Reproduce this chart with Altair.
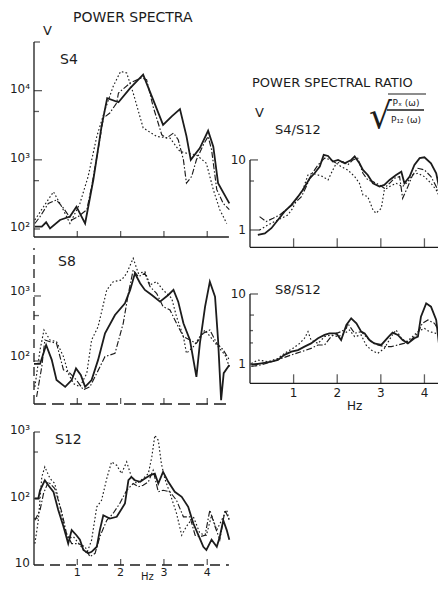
import altair as alt
import pandas as pd

INK = "#1c1c1c"
FONT = "DejaVu Sans"

# ---------------- data: frequency (Hz) and spectral amplitude ----------------
# Power spectrum, station S4
s4_solid_f = [0.02,0.18,0.28,0.37,0.6,0.83,0.98,1.18,1.37,1.56,1.69,1.95,2.22,2.52,2.75,2.98,3.18,3.37,3.52,3.62,3.83,4.02,4.14,4.25,4.51]
s4_solid_v = [108,108,125,102,135,151,210,120,515,3050,7800,6800,10900,17000,7400,3200,4250,5400,2200,1000,1480,2630,1550,460,235]
s4_dash_f = [0.02,0.14,0.33,0.52,0.68,0.87,1.02,1.22,1.33,1.48,1.6,1.75,1.91,1.95,2.22,2.48,2.6,2.75,2.95,3.06,3.22,3.33,3.45,3.52,3.64,3.75,3.91,4.02,4.1,4.22,4.37,4.51]
s4_dash_v = [120,151,234,263,200,135,151,190,410,1400,4000,4750,6650,9250,12900,15300,14400,5900,2300,2060,2440,1950,1000,460,575,1000,1650,2180,1400,370,234,190]
s4_dot_f = [0.02,0.22,0.45,0.64,0.83,1.06,1.25,1.45,1.64,1.83,2.0,2.14,2.29,2.52,2.83,3.14,3.37,3.52,3.75,3.98,4.14,4.29,4.45]
s4_dot_v = [135,210,345,210,120,234,575,2180,5300,11600,19000,18000,9250,2900,2180,2060,1320,1250,1180,890,370,190,120]

# Power spectrum, station S8
s8_solid_f = [0,0.14,0.28,0.41,0.52,0.72,0.87,0.97,1.08,1.18,1.33,1.48,1.64,1.87,2.1,2.22,2.33,2.45,2.56,2.72,2.91,3.1,3.22,3.33,3.45,3.6,3.75,3.83,3.95,4.06,4.18,4.25,4.32,4.38,4.51]
s8_solid_v = [90,90,176,104,51,40,51,77,61,40,51,104,267,510,771,1240,2230,1570,1240,1035,818,1035,1240,818,380,210,57,187,686,1660,977,210,25,65,87]
s8_dash_f = [0.06,0.18,0.25,0.37,0.52,0.68,0.83,0.98,1.14,1.29,1.45,1.64,1.87,2.06,2.18,2.29,2.41,2.56,2.68,2.83,2.98,3.14,3.29,3.45,3.6,3.75,3.91,4.06,4.22,4.37,4.51]
s8_dash_v = [28,82,210,198,187,73,65,51,36,40,65,117,131,380,1100,2510,1980,2230,1390,1100,686,610,380,237,210,187,267,300,187,148,104]
s8_dot_f = [0.02,0.14,0.23,0.37,0.52,0.68,0.79,0.91,1.06,1.22,1.33,1.48,1.68,1.83,2.02,2.14,2.29,2.41,2.56,2.68,2.83,2.98,3.18,3.29,3.45,3.52,3.68,3.83,3.95,4.1,4.25,4.41,4.51]
s8_dot_v = [40,148,300,210,198,117,65,45,40,65,210,337,1240,1660,1760,2230,3800,2230,2370,1480,1660,1240,920,481,237,131,166,237,300,223,166,124,82]

# Power spectrum, station S12
s12_solid_f = [0.02,0.1,0.14,0.25,0.33,0.45,0.56,0.68,0.79,0.87,0.98,1.06,1.14,1.25,1.33,1.45,1.52,1.6,1.75,1.91,2.1,2.18,2.25,2.33,2.45,2.56,2.68,2.79,2.87,2.98,3.1,3.25,3.41,3.56,3.68,3.83,3.91,3.98,4.1,4.22,4.29,4.37,4.45,4.51]
s12_solid_v = [100,100,133,188,158,126,67,38,21,33.5,28,24,16.8,15,15.8,18.8,33.5,56,50,53,84,188,211,188,178,200,224,237,168,251,178,126,106,75,42,25,18.8,16.8,24,18.8,26.6,47,33.5,24]
s12_dash_f = [0.02,0.14,0.22,0.33,0.48,0.64,0.75,0.87,1.02,1.18,1.29,1.41,1.52,1.68,1.83,1.98,2.14,2.29,2.41,2.52,2.64,2.75,2.87,2.98,3.14,3.29,3.45,3.6,3.72,3.83,3.95,4.06,4.18,4.29,4.41,4.51]
s12_dash_v = [47,67,119,178,141,63,30,21,21,18.8,13.3,15,26.6,47,60,84,133,168,150,158,178,266,126,133,126,94,53,53,28,26.6,28,67,38,24,67,47]
s12_dot_f = [0.02,0.1,0.18,0.25,0.37,0.48,0.6,0.72,0.79,0.91,1.06,1.22,1.33,1.45,1.56,1.68,1.79,1.91,2.02,2.14,2.25,2.37,2.52,2.64,2.72,2.79,2.87,2.94,3.02,3.14,3.29,3.41,3.52,3.68,3.83,3.98,4.1,4.22,4.33,4.45,4.51]
s12_dot_v = [21,47,211,299,200,168,75,33.5,25,26.6,20,15,23.7,75,94,200,355,316,237,355,211,168,200,237,422,891,750,335,200,119,60,28,38,53,30,28,56,33.5,47,67,47]

# Spectral ratio S4/S12
r4_solid_f = [0.18,0.34,0.49,0.64,0.79,0.95,1.1,1.21,1.37,1.48,1.6,1.69,1.79,1.9,2.02,2.17,2.32,2.4,2.51,2.59,2.7,2.82,2.97,3.08,3.2,3.35,3.47,3.54,3.66,3.77,3.89,4.0,4.15,4.27,4.34,4.46]
r4_solid_v = [0.85,0.895,1.06,1.39,1.83,2.28,2.99,3.73,5.47,6.45,8.03,11.8,11.4,9.47,10,8.96,10,11.2,8.96,7.2,6.1,4.64,4.16,4.4,5.18,6.1,6.8,4.64,5.78,8.48,10.6,10.9,8.96,6.45,3.94,2.68]
r4_dash_f = [0.22,0.37,0.53,0.68,0.87,1.02,1.18,1.29,1.4,1.56,1.71,1.86,1.98,2.13,2.24,2.36,2.47,2.59,2.7,2.82,2.97,3.08,3.2,3.31,3.43,3.5,3.62,3.73,3.85,4.0,4.15,4.27,4.38,4.5]
r4_dash_v = [1.55,1.32,1.47,1.64,2.04,2.4,2.99,4.16,6.1,8.48,10.6,10,8.96,9.47,8.48,10,10.6,6.45,5.18,4.9,4.4,3.94,4.64,5.47,5.78,2.83,4.16,6.1,7.6,7.2,5.78,4.16,2.99,2.28]
r4_dot_f = [0.22,0.41,0.56,0.72,0.87,0.98,1.1,1.21,1.33,1.44,1.56,1.67,1.79,1.9,1.98,2.09,2.24,2.4,2.51,2.59,2.7,2.82,2.89,3.01,3.08,3.2,3.35,3.5,3.62,3.73,3.85,4.0,4.15,4.27,4.38,4.46]
r4_dot_v = [1.0,1.18,1.32,1.47,1.64,2.04,2.99,3.73,6.1,6.45,6.1,5.78,5.18,7.2,8.96,8.03,7.2,5.78,4.64,3.16,2.99,1.93,1.73,2.04,3.73,4.16,4.64,4.16,4.9,6.1,6.45,5.78,4.64,3.73,2.68,1.47]

# Spectral ratio S8/S12
r8_solid_f = [0.03,0.26,0.49,0.64,0.79,0.95,1.1,1.25,1.4,1.56,1.71,1.82,1.98,2.09,2.21,2.32,2.44,2.55,2.63,2.74,2.85,3.01,3.18,3.27,3.39,3.5,3.62,3.77,3.85,3.92,4.04,4.15,4.27,4.34,4.42]
r8_solid_v = [0.97,1.02,1.08,1.14,1.35,1.5,1.58,1.77,1.97,2.33,2.6,2.74,2.74,2.2,3.61,4.49,3.81,2.9,2.74,2.2,1.97,1.87,2.46,2.8,2.6,2.2,1.97,2.33,2.46,4.75,7.36,6.59,4.25,1.77,0.74]
r8_dash_f = [0.03,0.26,0.49,0.72,0.95,1.18,1.4,1.56,1.71,1.86,1.98,2.09,2.21,2.24,2.4,2.55,2.66,2.78,2.93,3.08,3.24,3.39,3.53,3.69,3.85,3.95,4.08,4.23,4.34,4.42]
r8_dash_v = [0.92,0.97,1.08,1.2,1.35,1.5,1.67,1.87,1.87,2.46,2.74,2.9,3.23,3.81,2.74,2.9,2.46,2.08,1.87,1.77,1.77,1.87,1.97,2.2,2.74,3.81,4.25,3.81,2.9,1.97]
r8_dot_f = [0.03,0.18,0.41,0.64,0.79,0.98,1.14,1.25,1.33,1.4,1.56,1.71,1.86,2.02,2.17,2.28,2.4,2.55,2.66,2.78,2.93,3.08,3.24,3.35,3.47,3.58,3.69,3.85,4.0,4.11,4.27,4.42]
r8_dot_v = [1.02,1.14,1.08,1.2,1.42,1.67,1.97,2.33,2.9,2.2,1.97,2.46,2.6,2.46,2.74,3.06,2.46,2.6,1.87,1.58,1.42,1.67,2.46,3.06,2.33,2.08,2.33,2.9,3.23,2.9,2.74,2.46]

# tick values / labels
hz_ticks = [1, 2, 3, 4]
hz_labels = ["1", "2", "3", "4"]

STYLES = {
    "solid": dict(strokeWidth=1.8),
    "dashdot": dict(strokeWidth=1.15, strokeDash=[6, 2, 1.5, 2]),
    "dotted": dict(strokeWidth=1.15, strokeDash=[1.6, 2.2]),
}

EMPTY = alt.Data(values=[{}])


def panel(curves, xdom, xrng, ydom, yrng, axis_top, ytick_groups, xtick_size,
          ylab_vals, ylab_txt, xlabels, ydash, xdash, ylab_dy=0, xlab_size=12):
    xs = alt.Scale(domain=xdom, range=xrng, nice=False, zero=False)
    ys = alt.Scale(type="log", domain=ydom, range=yrng, nice=False)

    def X(f):
        return alt.X(f, type="quantitative", scale=xs, axis=None)

    def Y(f):
        return alt.Y(f, type="quantitative", scale=ys, axis=None)

    layers = []
    for f, v, style in curves:
        df = pd.DataFrame({"f": f, "v": v})
        layers.append(alt.Chart(df).mark_line(color=INK, **STYLES[style])
                      .encode(x=X("f"), y=Y("v")))
    # axis lines
    ydf = pd.DataFrame({"f": [0], "v": [ydom[0]], "v2": [axis_top]})
    yax = dict(strokeDash=ydash) if ydash else {}
    layers.append(alt.Chart(ydf).mark_rule(color=INK, strokeWidth=1.3, **yax)
                  .encode(x=X("f"), y=Y("v"), y2="v2"))
    xdf = pd.DataFrame({"f": [0], "f2": [xdom[1]], "v": [ydom[0]]})
    xax = dict(strokeDash=xdash) if xdash else {}
    layers.append(alt.Chart(xdf).mark_rule(color=INK, strokeWidth=1.3, **xax)
                  .encode(x=X("f"), x2="f2", y=Y("v")))
    # y ticks (pointing inwards)
    for size, vals in ytick_groups:
        tdf = pd.DataFrame({"f": [0] * len(vals), "v": vals})
        layers.append(alt.Chart(tdf).mark_tick(orient="horizontal", size=size, thickness=1.3,
                                               xOffset=size / 2, color=INK)
                      .encode(x=X("f"), y=Y("v")))
    # x ticks (pointing upwards)
    tdf = pd.DataFrame({"f": hz_ticks, "v": [ydom[0]] * len(hz_ticks)})
    layers.append(alt.Chart(tdf).mark_tick(orient="vertical", size=xtick_size, thickness=1.3,
                                           yOffset=-xtick_size / 2, color=INK)
                  .encode(x=X("f"), y=Y("v")))
    # y labels
    ldf = pd.DataFrame({"f": [0] * len(ylab_vals), "v": ylab_vals, "t": ylab_txt})
    layers.append(alt.Chart(ldf).mark_text(align="right", baseline="middle", dx=-4, dy=ylab_dy,
                                           fontSize=12, font=FONT, color=INK)
                  .encode(x=X("f"), y=Y("v"), text="t:N"))
    if xlabels is not None:
        xl = pd.DataFrame({"f": hz_ticks, "v": [ydom[0]] * len(hz_ticks), "t": hz_labels})
        layers.append(alt.Chart(xl).mark_text(align="center", baseline="top", dy=xlabels,
                                              fontSize=xlab_size, font=FONT, color=INK)
                      .encode(x=X("f"), y=Y("v"), text="t:N"))
    return alt.layer(*layers)


LX = ([0, 4.5], [26, 220.9])
RX = ([0, 4.46], [242, 436.5])

p_s4 = panel([(s4_solid_f, s4_solid_v, "solid"), (s4_dash_f, s4_dash_v, "dashdot"), (s4_dot_f, s4_dot_v, "dotted")],
             LX[0], LX[1], [76.6, 50500], [229, 34], 50500,
             [(8, [1e4, 1e3]), (5, [5e3, 5e2]), (6, [50500, 1e2])], 6,
             [1e4, 1e3, 1e2], ["10⁴", "10³", "10²"], None, None, None, ylab_dy=-2)
p_s8 = panel([(s8_solid_f, s8_solid_v, "solid"), (s8_dash_f, s8_dash_v, "dashdot"), (s8_dot_f, s8_dot_v, "dotted")],
             LX[0], LX[1], [21.8, 5470], [396, 240], 5470,
             [(7, [1e3]), (5, [5e2]), (6, [1e2])], 6,
             [1e3, 1e2], ["10³", "10²"], None, [9, 5], [12, 6], ylab_dy=-5)
p_s12 = panel([(s12_solid_f, s12_solid_v, "solid"), (s12_dash_f, s12_dash_v, "dashdot"), (s12_dot_f, s12_dot_v, "dotted")],
              LX[0], LX[1], [10, 1000], [557, 424], 1000,
              [(6, [1000, 1e2]), (4, [5e2, 5e1])], 6,
              [1000, 1e2, 10], ["10³", "10²", "10"], 2, None, [10, 6], ylab_dy=-2, xlab_size=11)
p_r4 = panel([(r4_solid_f, r4_solid_v, "solid"), (r4_dash_f, r4_dash_v, "dashdot"), (r4_dot_f, r4_dot_v, "dotted")],
             RX[0], RX[1], [0.566, 14.8], [239.3, 140], 10,
             [(8, [10]), (4, [5]), (10, [1])], 9,
             [10, 1], ["10", "1"], None, None, None)
p_r8 = panel([(r8_solid_f, r8_solid_v, "solid"), (r8_dash_f, r8_dash_v, "dashdot"), (r8_dot_f, r8_dot_v, "dotted")],
             RX[0], RX[1], [0.53, 10.33], [375.3, 285], 10,
             [(8, [10, 1]), (4, [5]), (3, [3, 2])], 9,
             [10, 1], ["10", "1"], 5, None, None)


def note(text, x, y, size=13, align="left", baseline="middle"):
    return (alt.Chart(EMPTY)
            .mark_text(text=text, align=align, baseline=baseline, fontSize=size, font=FONT, color=INK)
            .encode(x=alt.value(x), y=alt.value(y)))


def bar(x1, x2, y, w=1.2):
    return (alt.Chart(EMPTY).mark_rule(color=INK, strokeWidth=w)
            .encode(x=alt.value(x1), x2=alt.value(x2), y=alt.value(y)))


notes = [
    note("POWER SPECTRA", 65, 10, 14),
    note("V", 35, 23, 13),
    note("S4", 52, 52, 14),
    note("S8", 50, 254, 14),
    note("S12", 47, 432, 14),
    note("Hz", 133, 572, 10, baseline="alphabetic"),
    note("POWER SPECTRAL RATIO", 244, 75, 13),
    note("V", 247, 105, 13),
    note("S4/S12", 267, 122, 13),
    note("S8/S12", 267, 282, 13),
    note("Hz", 339, 398, 12),
    note("√", 361, 120, 36, baseline="alphabetic"),
    bar(380, 418, 86),
    note("Pₓ (ω)", 398, 95, 9, align="center"),
    bar(379, 416, 102, 1.4),
    note("P₁₂ (ω)", 398, 112, 9, align="center"),
]

chart = (alt.layer(p_s4, p_s8, p_s12, p_r4, p_r8, *notes)
         .resolve_scale(x="independent", y="independent")
         .properties(width=430, height=573, padding=0, autosize="none", background="white")
         .configure_view(stroke=None))

chart.save("out.html", embed_options={"renderer": "svg", "actions": False})
